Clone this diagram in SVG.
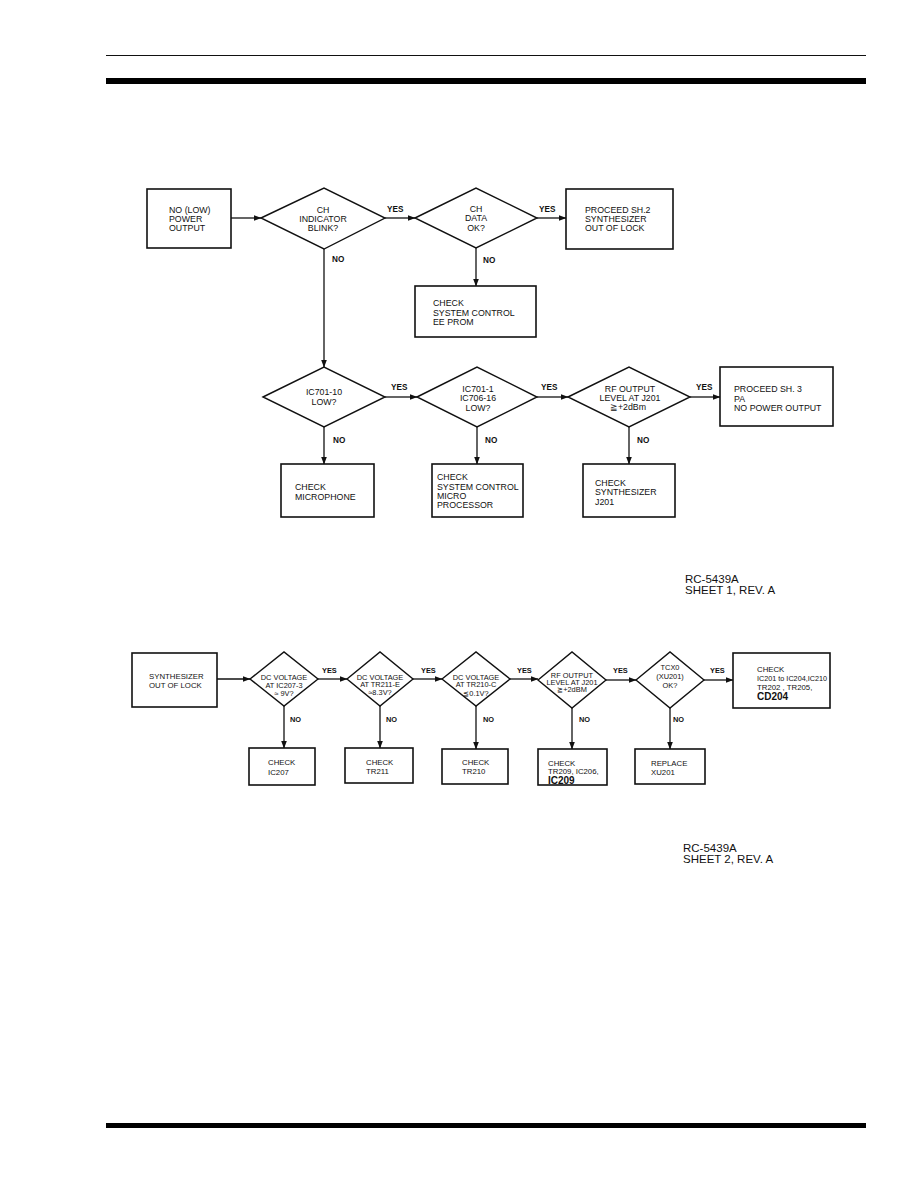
<svg xmlns="http://www.w3.org/2000/svg" width="918" height="1188" viewBox="0 0 918 1188">
<style>
text{font-family:"Liberation Sans",Arial,sans-serif;fill:#111}
.t{font-size:8.8px}
.s{font-size:7.8px}
.d{font-size:7.4px}
.lb{font-size:8.2px;font-weight:bold}
.ls{font-size:7.4px;font-weight:bold}
.big{font-size:10px;font-weight:bold}
.ref{font-size:11.5px}
.m{text-anchor:middle}
.box{fill:#fff;stroke:#111;stroke-width:1.6}
.dia{fill:#fff;stroke:#111;stroke-width:1.4}
.ln{fill:none;stroke:#111;stroke-width:1.3;marker-end:url(#ah)}
</style>
<defs>
<marker id="ah" markerUnits="userSpaceOnUse" markerWidth="8" markerHeight="6" refX="7.5" refY="3" orient="auto">
<path d="M0,0 L8,3 L0,6 z" fill="#111"/>
</marker>
</defs>
<rect x="0" y="0" width="918" height="1188" fill="#fff"/>
<g id="rules">
<line x1="106" y1="55.5" x2="866" y2="55.5" stroke="#111" stroke-width="1"/>
<rect x="106" y="78" width="760" height="6" fill="#000"/>
<rect x="106" y="1123" width="760" height="5" fill="#000"/>
</g>
<g id="connectors">
<line class="ln" x1="231" y1="218" x2="261" y2="218"/>
<line class="ln" x1="385" y1="218" x2="415" y2="218"/>
<line class="ln" x1="537" y1="218" x2="566" y2="218"/>
<line class="ln" x1="324" y1="249" x2="324" y2="367"/>
<line class="ln" x1="476" y1="248" x2="476" y2="286"/>
<line class="ln" x1="385" y1="397" x2="417" y2="397"/>
<line class="ln" x1="537" y1="397" x2="568" y2="397"/>
<line class="ln" x1="690" y1="397" x2="720" y2="397"/>
<line class="ln" x1="324" y1="427" x2="324" y2="464"/>
<line class="ln" x1="477" y1="427" x2="477" y2="464"/>
<line class="ln" x1="629" y1="427" x2="629" y2="464"/>
<line class="ln" x1="217" y1="679" x2="250" y2="679"/>
<line class="ln" x1="318" y1="679" x2="347" y2="679"/>
<line class="ln" x1="413" y1="679" x2="442" y2="679"/>
<line class="ln" x1="510" y1="679" x2="538" y2="679"/>
<line class="ln" x1="606" y1="680" x2="636" y2="680"/>
<line class="ln" x1="704" y1="680" x2="733" y2="680"/>
<line class="ln" x1="284" y1="706" x2="284" y2="748"/>
<line class="ln" x1="380" y1="706" x2="380" y2="748"/>
<line class="ln" x1="476" y1="706" x2="476" y2="749"/>
<line class="ln" x1="572" y1="708" x2="572" y2="749"/>
<line class="ln" x1="670" y1="708" x2="670" y2="749"/>
<text class="lb" x="387" y="212">YES</text>
<text class="lb" x="539" y="212">YES</text>
<text class="lb" x="332" y="262">NO</text>
<text class="lb" x="483" y="263">NO</text>
<text class="lb" x="391" y="390">YES</text>
<text class="lb" x="541" y="390">YES</text>
<text class="lb" x="696" y="390">YES</text>
<text class="lb" x="333" y="443">NO</text>
<text class="lb" x="485" y="443">NO</text>
<text class="lb" x="637" y="443">NO</text>
<text class="ls" x="322" y="673">YES</text>
<text class="ls" x="421" y="673">YES</text>
<text class="ls" x="517" y="673">YES</text>
<text class="ls" x="613" y="673">YES</text>
<text class="ls" x="710" y="673">YES</text>
<text class="ls" x="290" y="722">NO</text>
<text class="ls" x="386" y="722">NO</text>
<text class="ls" x="483" y="722">NO</text>
<text class="ls" x="579" y="722">NO</text>
<text class="ls" x="673" y="722">NO</text>
</g>
<g id="n-start">
<rect class="box" x="147" y="189" width="84" height="59"/>
<text class="t" x="169" y="213">NO (LOW)</text>
<text class="t" x="169" y="222">POWER</text>
<text class="t" x="169" y="231">OUTPUT</text>
</g>
<g id="n-ch-blink">
<polygon class="dia" points="261,218 324,188 385,218 324,249"/>
<text class="t m" x="323" y="213">CH</text>
<text class="t m" x="323" y="222">INDICATOR</text>
<text class="t m" x="323" y="231">BLINK?</text>
</g>
<g id="n-ch-data">
<polygon class="dia" points="415,218 476,188 537,218 476,248"/>
<text class="t m" x="476" y="212">CH</text>
<text class="t m" x="476" y="221">DATA</text>
<text class="t m" x="476" y="231">OK?</text>
</g>
<g id="n-sh2">
<rect class="box" x="566" y="189" width="107" height="60"/>
<text class="t" x="585" y="213">PROCEED SH.2</text>
<text class="t" x="585" y="222">SYNTHESIZER</text>
<text class="t" x="585" y="231">OUT OF LOCK</text>
</g>
<g id="n-eeprom">
<rect class="box" x="415" y="286" width="121" height="51"/>
<text class="t" x="433" y="306">CHECK</text>
<text class="t" x="433" y="316">SYSTEM CONTROL</text>
<text class="t" x="433" y="325">EE PROM</text>
</g>
<g id="n-ic701-10">
<polygon class="dia" points="263,397 324,367 385,397 324,427"/>
<text class="t m" x="324" y="395">IC701-10</text>
<text class="t m" x="324" y="405">LOW?</text>
</g>
<g id="n-ic701-1">
<polygon class="dia" points="417,397 477,367 537,397 477,427"/>
<text class="t m" x="478" y="392">IC701-1</text>
<text class="t m" x="478" y="401">IC706-16</text>
<text class="t m" x="478" y="411">LOW?</text>
</g>
<g id="n-rf-out">
<polygon class="dia" points="568,397 629,367 690,397 629,427"/>
<text class="t m" x="630" y="392">RF OUTPUT</text>
<text class="t m" x="630" y="401">LEVEL AT J201</text>
<text class="t m" x="628" y="410">≧+2dBm</text>
</g>
<g id="n-sh3">
<rect class="box" x="720" y="367" width="113" height="59"/>
<text class="t" x="734" y="392">PROCEED SH. 3</text>
<text class="t" x="734" y="402">PA</text>
<text class="t" x="734" y="411">NO POWER OUTPUT</text>
</g>
<g id="n-mic">
<rect class="box" x="281" y="464" width="93" height="53"/>
<text class="t" x="295" y="490">CHECK</text>
<text class="t" x="295" y="500">MICROPHONE</text>
</g>
<g id="n-micro">
<rect class="box" x="432" y="464" width="91" height="53"/>
<text class="t" x="437" y="480">CHECK</text>
<text class="t" x="437" y="490">SYSTEM CONTROL</text>
<text class="t" x="437" y="499">MICRO</text>
<text class="t" x="437" y="508">PROCESSOR</text>
</g>
<g id="n-synth">
<rect class="box" x="583" y="464" width="92" height="53"/>
<text class="t" x="595" y="486">CHECK</text>
<text class="t" x="595" y="495">SYNTHESIZER</text>
<text class="t" x="595" y="505">J201</text>
</g>
<g id="ref1">
<text class="ref" x="685" y="583">RC-5439A</text>
<text class="ref" x="685" y="594">SHEET 1, REV. A</text>
</g>
<g id="m-start">
<rect class="box" x="132" y="653" width="85" height="54"/>
<text class="s" x="149" y="679">SYNTHESIZER</text>
<text class="s" x="149" y="688">OUT OF LOCK</text>
</g>
<g id="m-ic207v">
<polygon class="dia" points="250,679 284,652 318,679 284,706"/>
<text class="d m" x="284" y="680">DC VOLTAGE</text>
<text class="d m" x="284" y="688">AT IC207-3</text>
<text class="d m" x="284" y="696">≈ 9V?</text>
</g>
<g id="m-tr211v">
<polygon class="dia" points="347,679 380,652 413,679 380,706"/>
<text class="d m" x="380" y="680">DC VOLTAGE</text>
<text class="d m" x="380" y="687">AT TR211-E</text>
<text class="d m" x="380" y="695">≈8.3V?</text>
</g>
<g id="m-tr210v">
<polygon class="dia" points="442,679 476,652 510,679 476,706"/>
<text class="d m" x="476" y="680">DC VOLTAGE</text>
<text class="d m" x="476" y="687">AT TR210-C</text>
<text class="d m" x="476" y="696">≦0.1V?</text>
</g>
<g id="m-rf">
<polygon class="dia" points="538,680 572,652 606,680 572,708"/>
<text class="d m" x="572" y="678">RF OUTPUT</text>
<text class="d m" x="572" y="685">LEVEL AT J201</text>
<text class="d m" x="572" y="692">≧+2dBM</text>
</g>
<g id="m-tcxo">
<polygon class="dia" points="636,680 670,652 704,680 670,708"/>
<text class="d m" x="670" y="670">TCX0</text>
<text class="d m" x="670" y="679">(XU201)</text>
<text class="d m" x="670" y="688">OK?</text>
</g>
<g id="m-check-ic201">
<rect class="box" x="733" y="653" width="97" height="55"/>
<text class="s" x="757" y="672">CHECK</text>
<text class="s" x="757" y="681" textLength="70" lengthAdjust="spacingAndGlyphs">IC201 to IC204,IC210</text>
<text class="s" x="757" y="690">TR202 , TR205,</text>
<text class="big" x="757" y="700">CD204</text>
</g>
<g id="m-ic207">
<rect class="box" x="249" y="748" width="66" height="37"/>
<text class="s" x="268" y="765">CHECK</text>
<text class="s" x="268" y="775">IC207</text>
</g>
<g id="m-tr211">
<rect class="box" x="345" y="748" width="68" height="35"/>
<text class="s" x="366" y="765">CHECK</text>
<text class="s" x="366" y="774">TR211</text>
</g>
<g id="m-tr210">
<rect class="box" x="442" y="749" width="66" height="35"/>
<text class="s" x="462" y="765">CHECK</text>
<text class="s" x="462" y="774">TR210</text>
</g>
<g id="m-tr209">
<rect class="box" x="538" y="749" width="69" height="36"/>
<text class="s" x="548" y="766">CHECK</text>
<text class="s" x="548" y="774">TR209, IC206,</text>
<text class="big" x="548" y="784">IC209</text>
</g>
<g id="m-xu201">
<rect class="box" x="635" y="749" width="70" height="35"/>
<text class="s" x="651" y="766">REPLACE</text>
<text class="s" x="651" y="775">XU201</text>
</g>
<g id="ref2">
<text class="ref" x="683" y="852">RC-5439A</text>
<text class="ref" x="683" y="863">SHEET 2, REV. A</text>
</g>
</svg>
